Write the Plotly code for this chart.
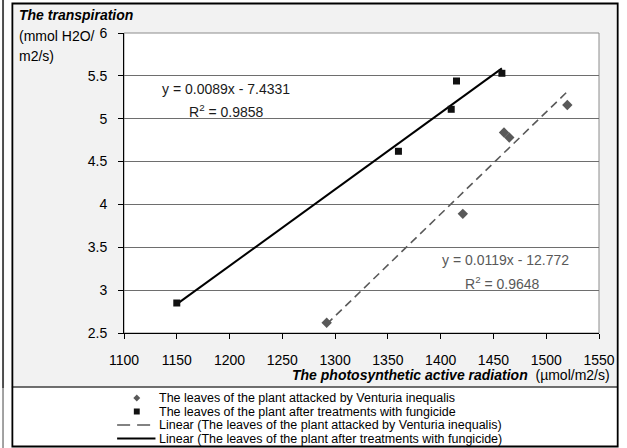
import numpy as np
import plotly.graph_objects as go

# ---- data ----
par_venturia = [1292, 1421, 1460, 1465, 1520]
trans_venturia = [2.62, 3.89, 4.84, 4.78, 5.16]
par_fungicide = [1150, 1360, 1410, 1415, 1458]
trans_fungicide = [2.85, 4.62, 5.11, 5.44, 5.53]

# trend lines (unrounded slope estimates; the labels show the rounded values)
slope_venturia, intercept_venturia = 0.0119, -12.772
slope_fungicide, intercept_fungicide = 0.00893, -7.4331
eq_venturia = "y = 0.0119x - 12.772"
eq_fungicide = "y = 0.0089x - 7.4331"
r2_venturia, r2_fungicide = "0.9648", "0.9858"

name_venturia = "The leaves of the plant attacked by Venturia inequalis"
name_fungicide = "The leaves of the plant after treatments with fungicide"

x_ticks = [1100, 1150, 1200, 1250, 1300, 1350, 1400, 1450, 1500, 1550]
y_ticks = [2.5, 3, 3.5, 4, 4.5, 5, 5.5, 6]

FONT = "Liberation Sans, Arial, sans-serif"
W, H = 627, 448
ML, MR, MT, MB = 124, 20, 33, 115
PW, PH = W - ML - MR, H - MT - MB


def px(x):
    return (x - ML) / PW


def py(y):
    return (H - MB - y) / PH


fig = go.Figure()

xv = np.array([min(par_venturia), max(par_venturia)])
xf = np.array([min(par_fungicide), max(par_fungicide)])
fig.add_trace(go.Scatter(x=xv, y=slope_venturia * xv + intercept_venturia, mode="lines",
                         line=dict(color="#595959", width=1.6, dash="8px,5px"),
                         showlegend=False, hoverinfo="skip"))
fig.add_trace(go.Scatter(x=xf, y=slope_fungicide * xf + intercept_fungicide, mode="lines",
                         line=dict(color="#000000", width=2),
                         showlegend=False, hoverinfo="skip"))
fig.add_trace(go.Scatter(x=par_venturia, y=trans_venturia, mode="markers",
                         marker=dict(symbol="diamond", size=8, color="#595959"),
                         name=name_venturia, showlegend=False))
fig.add_trace(go.Scatter(x=par_fungicide, y=trans_fungicide, mode="markers",
                         marker=dict(symbol="square", size=7, color="#111111"),
                         name=name_fungicide, showlegend=False))

shapes = []
# left edge strip
shapes.append(dict(type="rect", xref="paper", yref="paper", x0=px(0), x1=px(2), y0=py(388), y1=py(0),
                   fillcolor="#4d4d4d", line=dict(width=0), layer="below"))
shapes.append(dict(type="rect", xref="paper", yref="paper", x0=px(0), x1=px(2), y0=py(448), y1=py(388),
                   fillcolor="#a0a0a0", line=dict(width=0), layer="below"))
# gray chart area
shapes.append(dict(type="rect", xref="paper", yref="paper", x0=px(10), x1=px(626), y0=py(387), y1=py(3),
                   fillcolor="#f2f2f2", line=dict(width=0), layer="below"))
# plot area
shapes.append(dict(type="rect", xref="paper", yref="paper", x0=0, x1=1, y0=0, y1=1,
                   fillcolor="white", line=dict(color="#8c8c8c", width=1), layer="below"))
# separator
shapes.append(dict(type="line", xref="paper", yref="paper", x0=px(10), x1=px(626), y0=py(387), y1=py(387),
                   line=dict(color="#404040", width=1.5)))
# outer border
shapes.append(dict(type="rect", xref="paper", yref="paper", x0=px(10.5), x1=px(626), y0=py(446.5), y1=py(3.5),
                   line=dict(color="#000000", width=1.8)))

# manual legend glyphs
rows = [398, 411.5, 425, 438.5]
sx = 137
shapes.append(dict(type="path", xref="paper", yref="paper",
                   path="M {a},{b} L {c},{d} L {a},{e} L {f},{d} Z".format(
                       a=px(sx), b=py(rows[0] - 3.5), c=px(sx + 3.5), d=py(rows[0]), e=py(rows[0] + 3.5), f=px(sx - 3.5)),
                   fillcolor="#595959", line=dict(width=0)))
shapes.append(dict(type="rect", xref="paper", yref="paper", x0=px(sx - 3), x1=px(sx + 3),
                   y0=py(rows[1] + 3), y1=py(rows[1] - 3), fillcolor="#111111", line=dict(width=0)))
shapes.append(dict(type="line", xref="paper", yref="paper", x0=px(117), x1=px(156), y0=py(rows[2]), y1=py(rows[2]),
                   line=dict(color="#595959", width=1.6, dash="13px,7px")))
shapes.append(dict(type="line", xref="paper", yref="paper", x0=px(117), x1=px(156), y0=py(rows[3]), y1=py(rows[3]),
                   line=dict(color="#000000", width=1.8)))

legend_texts = [name_venturia, name_fungicide,
                "Linear (" + name_venturia + ")", "Linear (" + name_fungicide + ")"]
annotations = []
for r, t in zip(rows, legend_texts):
    annotations.append(dict(text=t, xref="paper", yref="paper", x=px(158), y=py(r), xanchor="left",
                            yanchor="middle", showarrow=False, font=dict(family=FONT, size=12.5, color="#000")))

# axis titles
annotations.append(dict(text="<b><i>The transpiration</i></b>", xref="paper", yref="paper", x=px(15), y=py(15),
                        xanchor="left", yanchor="middle", showarrow=False, font=dict(family=FONT, size=14, color="#000")))
annotations.append(dict(text="(mmol H2O/", xref="paper", yref="paper", x=px(15), y=py(36),
                        xanchor="left", yanchor="middle", showarrow=False, font=dict(family=FONT, size=14, color="#000")))
annotations.append(dict(text="m2/s)", xref="paper", yref="paper", x=px(15), y=py(56),
                        xanchor="left", yanchor="middle", showarrow=False, font=dict(family=FONT, size=14, color="#000")))
annotations.append(dict(text="<b><i>The photosynthetic active radiation</i></b>  (µmol/m2/s)", xref="paper",
                        yref="paper", x=px(620), y=py(374.5), xanchor="right", yanchor="middle", showarrow=False,
                        font=dict(family=FONT, size=14, color="#000")))

# equations
annotations.append(dict(text=eq_fungicide, x=1196.9, y=5.347,
                        xref="x", yref="y", showarrow=False, font=dict(family=FONT, size=14, color="#1a1a1a")))
annotations.append(dict(text="R<sup>2</sup> = " + r2_fungicide, x=1197.5, y=5.09,
                        xref="x", yref="y", showarrow=False, font=dict(family=FONT, size=14, color="#1a1a1a")))
annotations.append(dict(text=eq_venturia, x=1461.5, y=3.352,
                        xref="x", yref="y", showarrow=False, font=dict(family=FONT, size=14, color="#595959")))
annotations.append(dict(text="R<sup>2</sup> = " + r2_venturia, x=1458.7, y=3.08,
                        xref="x", yref="y", showarrow=False, font=dict(family=FONT, size=14, color="#595959")))

fig.update_layout(
    width=W, height=H, autosize=False,
    margin=dict(l=ML, r=MR, t=MT, b=MB, pad=0),
    paper_bgcolor="white", plot_bgcolor="white",
    font=dict(family=FONT, size=14, color="#000"),
    shapes=shapes, annotations=annotations, showlegend=False,
    xaxis=dict(range=[1100, 1550], tickvals=x_ticks, ticktext=[str(v) for v in x_ticks],
               showgrid=False, zeroline=False, showline=True, linecolor="#000", linewidth=1,
               ticks="outside", ticklen=5, tickcolor="#000", tickwidth=1,
               tickfont=dict(family=FONT, size=14, color="#000"), ticklabelstandoff=9),
    yaxis=dict(range=[2.5, 6], tickvals=y_ticks, ticktext=[("%g" % v) for v in y_ticks],
               showgrid=True, gridcolor="#6e6e6e", gridwidth=1, zeroline=False,
               showline=True, linecolor="#000", linewidth=1,
               ticks="outside", ticklen=5, tickcolor="#000", tickwidth=1,
               tickfont=dict(family=FONT, size=14, color="#000"), ticklabelstandoff=8),
)

fig.write_html(
    "out.html",
    config={"displayModeBar": False},
    post_script="document.body.style.margin='0';document.body.style.overflow='hidden';",
)
